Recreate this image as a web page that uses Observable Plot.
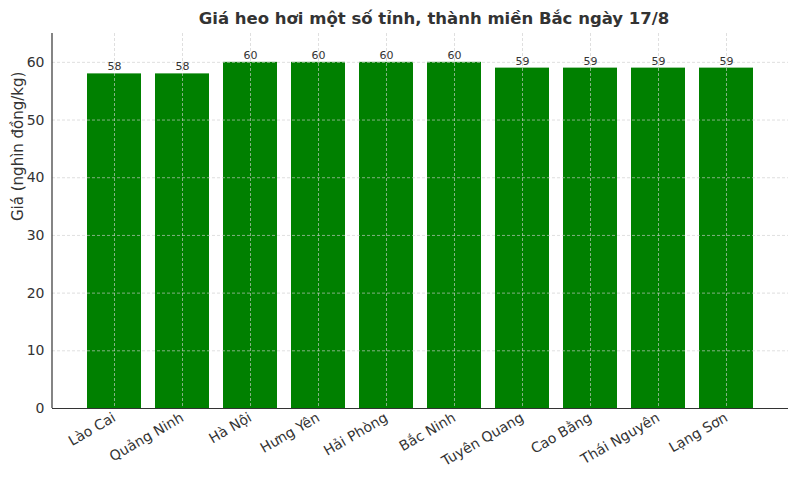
<!DOCTYPE html>
<html>
<head>
<meta charset="utf-8">
<script src="https://cdn.jsdelivr.net/npm/d3@7"></script>
<script src="https://cdn.jsdelivr.net/npm/@observablehq/plot@0.6"></script>
<style>
  body { margin: 0; background: #fff; font-family: "DejaVu Sans", sans-serif; }
  #wrap { position: relative; width: 800px; height: 480px; }
  #title { position: absolute; left: 66px; width: 736px; top: 9px; text-align: center;
           font: bold 16.5px "DejaVu Sans", sans-serif; color: #333; }
  #chart { position: absolute; left: 0; top: 0; }
</style>
</head>
<body>
<div id="wrap">
  <div id="chart"></div>
  <div id="title">Giá heo hơi một số tỉnh, thành miền Bắc ngày 17/8</div>
</div>
<script>
const provinces = ["Lào Cai", "Quảng Ninh", "Hà Nội", "Hưng Yên", "Hải Phòng", "Bắc Ninh", "Tuyên Quang", "Cao Bằng", "Thái Nguyên", "Lạng Sơn"];
const prices = [58, 58, 60, 60, 60, 60, 59, 59, 59, 59];
const yTicks = [0, 10, 20, 30, 40, 50, 60];
const yLabel = "Giá (nghìn đồng/kg)";

const data = provinces.map((p, i) => ({province: p, price: prices[i]}));

const chart = Plot.plot({
  width: 800,
  height: 480,
  marginLeft: 52,
  marginRight: 12,
  marginTop: 33,
  marginBottom: 72,
  style: {fontFamily: "DejaVu Sans, sans-serif", color: "#333", background: "#fff"},
  x: {domain: provinces, paddingInner: 0.2, paddingOuter: 0.49, label: null},
  y: {domain: [0, 65], label: null},
  marks: [
    Plot.barY(data, {x: "province", y: "price", fill: "green"}),
    Plot.gridY(yTicks, {stroke: "#ccc", strokeOpacity: 0.8, strokeDasharray: "3,2", strokeWidth: 0.8}),
    Plot.gridX(provinces, {stroke: "#ccc", strokeOpacity: 0.8, strokeDasharray: "3,2", strokeWidth: 0.8}),
    Plot.text(data, {x: "province", y: "price", text: d => String(d.price), dy: -7, fontSize: 11, fill: "#333"}),
    Plot.axisY(yTicks, {tickSize: 0, tickPadding: 8, fontSize: 14, fill: "#333", label: null}),
    Plot.axisX({tickSize: 0, tickRotate: -30, fontSize: 14, fill: "#333", tickPadding: 8, label: null, textAnchor: "end"}),
    Plot.ruleY([0], {stroke: "#333", strokeWidth: 1.2}),
    Plot.text([yLabel], {frameAnchor: "left", dx: -34, rotate: -90, fontSize: 15, fill: "#333", text: d => d})
  ]
});
document.getElementById("chart").appendChild(chart);
// left spine
const svg = d3.select(chart);
svg.append("line").attr("x1", 52).attr("x2", 52).attr("y1", 33).attr("y2", 408)
  .attr("stroke", "#333").attr("stroke-width", 1.2);
</script>
</body>
</html>
